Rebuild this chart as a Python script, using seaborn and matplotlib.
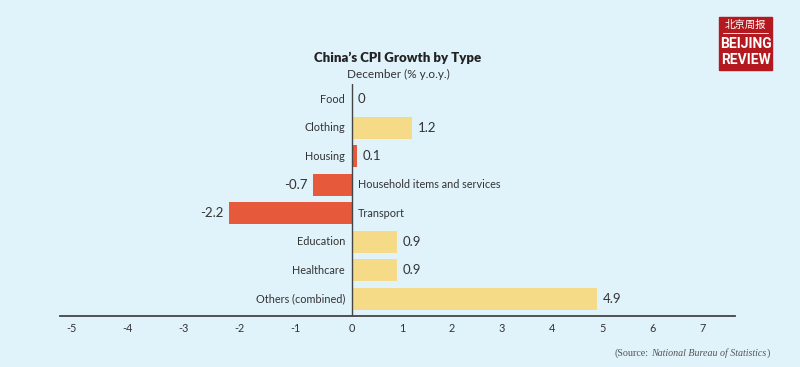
import numpy as np
import pandas as pd
import matplotlib
matplotlib.use("Agg")
import matplotlib.pyplot as plt
import seaborn as sns
from matplotlib.patches import Rectangle

# data
categories = ["Food", "Clothing", "Housing", "Household items and services",
              "Transport", "Education", "Healthcare", "Others (combined)"]
values = [0, 1.2, 0.1, -0.7, -2.2, 0.9, 0.9, 4.9]
bar_colors = ["#F5DB87", "#F5DB87", "#E65A3B", "#E65A3B",
              "#E65A3B", "#F5DB87", "#F5DB87", "#F5DB87"]
value_labels = ["0", "1.2", "0.1", "-0.7", "-2.2", "0.9", "0.9", "4.9"]
xticks = [-5, -4, -3, -2, -1, 0, 1, 2, 3, 4, 5, 6, 7]

bg = "#E0F2FA"
txt = "#333333"

sns.set_theme(style="white")
plt.rcParams["font.family"] = ["Lato", "DejaVu Sans"]
plt.rcParams["axes.unicode_minus"] = False

df = pd.DataFrame({"category": categories, "value": values})

fig = plt.figure(figsize=(8, 3.67), dpi=100)
fig.patch.set_facecolor(bg)
ax = fig.add_axes([0.075, 0.139, 0.844, 0.632])
ax.set_facecolor(bg)

sns.barplot(data=df, x="value", y="category", hue="category",
            palette=bar_colors, orient="h", width=0.77, legend=False,
            saturation=1, linewidth=0, ax=ax)

# negative side of the printed axis is a bit wider per unit
neg = 1.12
ax.set_xscale("function", functions=(lambda x: np.where(x < 0, x * neg, x),
                                     lambda x: np.where(x < 0, x / neg, x)))
ax.set_xlim(-5.21, 7.66)
ax.set_ylim(7.6, -0.53)

ax.axvline(0, color="#444444", lw=1.0, zorder=3)

for i, (v, lab) in enumerate(zip(values, value_labels)):
    if v >= 0:
        ax.annotate(categories[i], (0, i), xytext=(-5, 0), textcoords="offset points",
                    ha="right", va="center", fontsize=7.8, color=txt)
        ax.annotate(lab, (v, i), xytext=(4, 0), textcoords="offset points",
                    ha="left", va="center", fontsize=9.5, color=txt)
    else:
        ax.annotate(categories[i], (0, i), xytext=(4, 0), textcoords="offset points",
                    ha="left", va="center", fontsize=7.8, color=txt)
        ax.annotate(lab, (v, i), xytext=(-4, 0), textcoords="offset points",
                    ha="right", va="center", fontsize=9.5, color=txt)

ax.set_xticks(xticks)
ax.set_xticklabels([str(t) for t in xticks], fontsize=7.8, color=txt)
ax.tick_params(axis="x", length=0, pad=5)
ax.set_yticks([])
ax.set_xlabel("")
ax.set_ylabel("")
for s in ["top", "right", "left"]:
    ax.spines[s].set_visible(False)
ax.spines["bottom"].set_color("#444444")
ax.spines["bottom"].set_linewidth(1.3)

fig.text(0.4975, 1 - 58 / 367, "China\u2019s CPI Growth by Type", ha="center", va="center",
         fontsize=9.5, fontweight="heavy", color="#222222")
fig.text(0.4975, 1 - 74 / 367, "December (% y.o.y.)", ha="center", va="center",
         fontsize=8.5, color=txt)

# source note: roman / italic / roman pieces laid side by side
t1 = fig.text(0.767, 1 - 356 / 367, "(Source:", ha="left", va="baseline",
              fontsize=7.2, color="#555555", family="Liberation Serif")
t2 = fig.text(0.767, 1 - 356 / 367, "National Bureau of Statistics", va="baseline",
              fontsize=7.2, color="#555555", family="Liberation Serif", style="italic")
t3 = fig.text(0.767, 1 - 356 / 367, ")", va="baseline",
              fontsize=7.2, color="#555555", family="Liberation Serif")
fig.canvas.draw()
r = fig.canvas.get_renderer()
w1 = t1.get_window_extent(r).width / 800
w2 = t2.get_window_extent(r).width / 800
w3 = t3.get_window_extent(r).width / 800
gap = 2.5 / 800
x0 = 0.962 - (w1 + gap + w2 + w3)
t1.set_x(x0)
t2.set_x(x0 + w1 + gap)
t3.set_x(x0 + w1 + gap + w2)

# logo
fig.patches.append(Rectangle((719 / 800, 1 - 70 / 367), 53 / 800, 53 / 367,
                             transform=fig.transFigure, color="#B3191E", zorder=5))
fig.text(745.5 / 800, 1 - 25 / 367, "北京周报", ha="center", va="center", fontsize=7.5,
         color="white", family=["Noto Sans CJK SC"], zorder=6)
fig.lines.append(plt.Line2D([723 / 800, 768 / 800], [1 - 33 / 367, 1 - 33 / 367],
                            transform=fig.transFigure, color="white", lw=0.6, zorder=6))
fig.text(745.5 / 800, 1 - 44 / 367, "BEIJING", ha="center", va="center", fontsize=10,
         fontweight="bold", color="white", family=["Roboto", "DejaVu Sans"], zorder=6)
fig.text(745.5 / 800, 1 - 60 / 367, "REVIEW", ha="center", va="center", fontsize=10,
         fontweight="bold", color="white", family=["Roboto", "DejaVu Sans"], zorder=6)

fig.savefig("out.png", dpi=100, facecolor=bg)
